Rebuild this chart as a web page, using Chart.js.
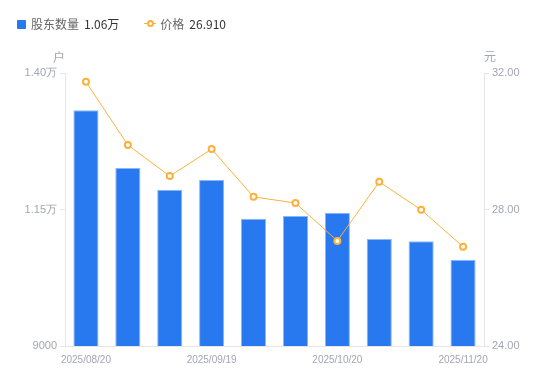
<!DOCTYPE html>
<html>
<head>
<meta charset="utf-8">
<script src="https://cdn.jsdelivr.net/npm/chart.js@4/dist/chart.umd.min.js"></script>
<style>
  html, body { margin: 0; padding: 0; background: #fff; }
  .wrap { position: relative; width: 550px; height: 381px; font-family: 'Noto Sans CJK SC', 'Noto Sans', sans-serif; }
  canvas { position: absolute; left: 0; top: 0; }
  .legend { position: absolute; left: 17px; top: 15px; font-size: 12px; line-height: 18px; display: flex; align-items: center; }
  .legend .sq { width: 9px; height: 9px; background: #2878f0; border-radius: 1px; margin-right: 5px; }
  .legend .lbl { color: #666; margin-right: 5px; }
  .legend .val { color: #333; }
  .legend .ic { position: relative; width: 12px; height: 18px; margin-left: 25px; margin-right: 4px; }
  .legend .ic i { position: absolute; left: 0; top: 8px; width: 12px; height: 1px; background: #fbb13c; }
  .legend .ic b { position: absolute; left: 3px; top: 5px; width: 3px; height: 3px; border: 2px solid #fbb13c; border-radius: 50%; background: #fff; }
</style>
</head>
<body>
<div class="wrap">
  <canvas id="chartGd" width="550" height="381"></canvas>
  <div class="legend">
    <span class="sq"></span><span class="lbl">股东数量</span><span class="val">1.06万</span>
    <span class="ic"><i></i><b></b></span><span class="lbl">价格</span><span class="val">26.910</span>
  </div>
</div>
<script>
// ── Datos ──
const fechas    = ['2025/08/20', '2025/08/29', '2025/09/10', '2025/09/19', '2025/09/30',
                   '2025/10/10', '2025/10/20', '2025/10/31', '2025/11/10', '2025/11/20'];
const holders   = [13320, 12260, 11860, 12040, 11330, 11380, 11440, 10960, 10920, 10580];
const precios   = [31.74, 29.89, 28.98, 29.77, 28.37, 28.19, 27.08, 28.81, 27.99, 26.91];
const holderTicks = [9000, 11500, 14000];
const precioTicks = [24, 28, 32];

const gris = '#a3a5b3';
const eje  = '#e6e6e6';

// unidades arriba de los ejes
const unidades = {
  id: 'unidades',
  afterDraw(chart) {
    const { ctx, chartArea } = chart;
    ctx.save();
    ctx.font = '12px "Noto Sans CJK SC", sans-serif';
    ctx.fillStyle = gris;
    ctx.textAlign = 'center';
    ctx.textBaseline = 'middle';
    ctx.fillText('户', chartArea.left - 6, chartArea.top - 16);
    ctx.fillText('元', chartArea.right + 6, chartArea.top - 17);
    ctx.restore();
  }
};

function fmtHolder(v) {
  if (v >= 10000) return (v / 10000).toFixed(2) + '万';
  return String(v);
}

new Chart(document.getElementById('chartGd'), {
  type: 'bar',
  data: {
    labels: fechas,
    datasets: [
      {
        type: 'line', label: '价格', data: precios, yAxisID: 'y1',
        borderColor: '#fbb13c', borderWidth: 1, tension: 0,
        pointRadius: 3, pointBorderWidth: 2, pointBackgroundColor: '#fff', pointBorderColor: '#fbb13c',
        order: 0
      },
      {
        label: '股东数量', data: holders, yAxisID: 'y',
        backgroundColor: '#2878f0', borderColor: '#8cb8f7', borderWidth: 1, borderSkipped: 'bottom',
        categoryPercentage: 0.6, barPercentage: 1, order: 1
      }
    ]
  },
  options: {
    responsive: false, animation: false,
    layout: { padding: { top: 73, right: 0, bottom: 0, left: 0 } },
    plugins: { legend: { display: false }, tooltip: { enabled: false } },
    scales: {
      x: {
        grid: { display: false },
        border: { color: eje },
        ticks: {
          color: gris, font: { family: 'Liberation Sans', size: 10 }, padding: 0,
          maxRotation: 0, autoSkip: false,
          callback: (v, i) => i % 3 === 0 ? fechas[i] : ''
        },
        afterFit: s => { s.height = 35; }
      },
      y: {
        position: 'left', min: 9000, max: 14000,
        afterBuildTicks: s => { s.ticks = holderTicks.map(v => ({ value: v })); },
        grid: { drawOnChartArea: false, color: eje, tickLength: 5 },
        border: { color: eje },
        ticks: { color: gris, font: { family: 'Liberation Sans', size: 11 }, padding: 3, callback: v => fmtHolder(v) },
        afterFit: s => { s.width = 65; }
      },
      y1: {
        position: 'right', min: 24, max: 32,
        afterBuildTicks: s => { s.ticks = precioTicks.map(v => ({ value: v })); },
        grid: { drawOnChartArea: false, color: eje, tickLength: 5 },
        border: { color: eje },
        ticks: { color: gris, font: { family: 'Liberation Sans', size: 11 }, padding: 3, callback: v => v.toFixed(2) },
        afterFit: s => { s.width = 66; }
      }
    }
  },
  plugins: [unidades]
});
</script>
</body>
</html>
